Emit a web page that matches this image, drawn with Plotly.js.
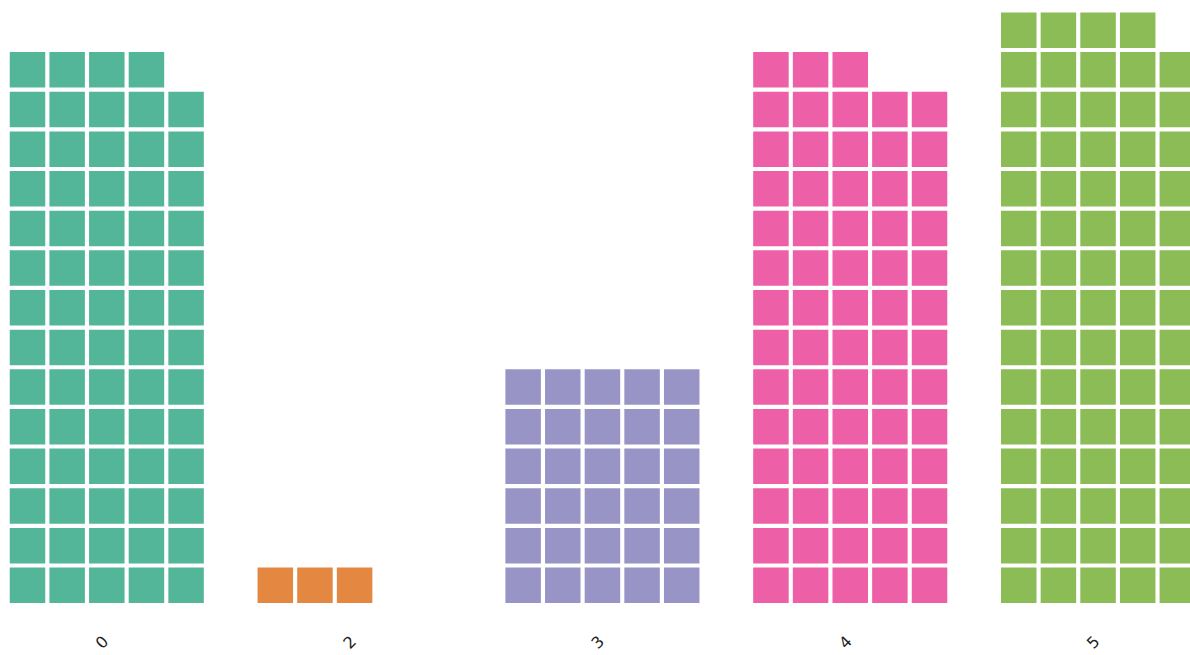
<!DOCTYPE html>
<html>
<head>
<meta charset="utf-8">
<script src="https://cdn.plot.ly/plotly-3.0.1.min.js"></script>
<style>html,body{margin:0;padding:0;background:#fff;}#chart{width:1190px;height:655px;}</style>
</head>
<body>
<div id="chart"></div>
<script>
const categories = ['0', '2', '3', '4', '5'];
const values = [69, 3, 30, 68, 74];
const colors = ['#1b9e77', '#d95f02', '#7570b3', '#e7298a', '#66a61e'];
const perRow = 5;
const groupStep = 6.25;

const traces = categories.map((cat, gi) => {
  const xs = [], ys = [];
  for (let i = 0; i < values[gi]; i++) {
    xs.push(gi * groupStep + (i % perRow));
    ys.push(Math.floor(i / perRow));
  }
  return {
    type: 'scatter', mode: 'markers', x: xs, y: ys, name: cat,
    hoverinfo: 'skip', cliponaxis: true,
    marker: {symbol: 'square', size: 35.5, color: colors[gi], opacity: 0.75, line: {width: 0}}
  };
});

const layout = {
  width: 1190, height: 655,
  margin: {l: 0, r: 0, t: 0, b: 35},
  paper_bgcolor: '#fff', plot_bgcolor: '#fff',
  showlegend: false,
  xaxis: {
    range: [-0.6936, 29.319], showgrid: false, zeroline: false, showline: false,
    tickmode: 'array', tickvals: categories.map((c, i) => i * groupStep + 2), ticktext: categories,
    tickangle: -45, ticks: '', ticklabelstandoff: 8, ticklabelshift: -3,
    tickfont: {family: 'DejaVu Sans', size: 16, color: '#222'}
  },
  yaxis: {range: [-0.875, 14.762], showgrid: false, zeroline: false, showline: false, showticklabels: false}
};
Plotly.newPlot('chart', traces, layout, {staticPlot: true});
</script>
</body>
</html>
